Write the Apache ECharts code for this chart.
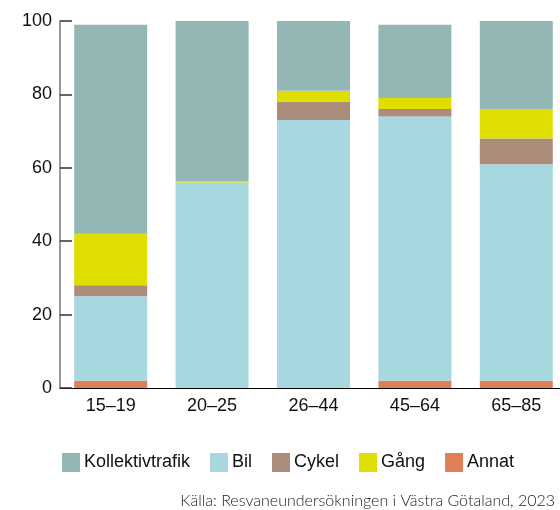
<!DOCTYPE html>
<html>
<head>
<meta charset="utf-8">
<script src="https://cdn.jsdelivr.net/npm/echarts@6/dist/echarts.min.js"></script>
<style>
  html, body { margin: 0; padding: 0; background: #fff; }
  #chart { width: 560px; height: 510px; }
</style>
</head>
<body>
<div id="chart"></div>
<script>
  // age groups
  const categories = ['15–19', '20–25', '26–44', '45–64', '65–85']
  // share in percent, stacked from the bottom up
  const annat = [2, 0, 0, 2, 2]
  const bil = [23, 56, 73, 72, 59]
  const cykel = [3, 0, 5, 2, 7]
  const gang = [14, 0.3, 3, 3, 8]
  const kollektivtrafik = [57, 43.7, 19, 20, 24]
  const yTicks = [0, 20, 40, 60, 80, 100]

  const fontFam = '"Liberation Sans", Arial, sans-serif'

  const chart = echarts.init(document.getElementById('chart'))

  function bar(name, data, color) {
    return {
      name: name,
      type: 'bar',
      stack: 'total',
      data: data,
      barWidth: 73,
      itemStyle: { color: color },
      emphasis: { disabled: true }
    }
  }

  var option = {
    animation: false,
    grid: {
      left: 60,
      top: 21,
      bottom: 122,
      width: 507,
      outerBoundsMode: 'none'
    },
    legend: {
      data: ['Kollektivtrafik', 'Bil', 'Cykel', 'Gång', 'Annat'],
      left: 57,
      top: 448,
      itemWidth: 18,
      itemHeight: 19,
      itemGap: 20,
      icon: 'rect',
      textStyle: { fontFamily: fontFam, fontSize: 18, color: '#111', padding: [0, 0, 0, -1] }
    },
    title: {
      text: 'Källa: Resvaneundersökningen i Västra Götaland, 2023',
      right: 0,
      top: 488,
      textStyle: { fontFamily: 'Lato', fontWeight: 300, fontSize: 16, color: '#222' }
    },
    xAxis: {
      type: 'category',
      data: categories,
      axisLine: { lineStyle: { color: '#000', width: 1.2 } },
      axisTick: { show: false },
      axisLabel: { fontFamily: fontFam, fontSize: 18, color: '#111', margin: 9 }
    },
    yAxis: {
      type: 'value',
      min: yTicks[0],
      max: yTicks[yTicks.length - 1],
      interval: 20,
      splitLine: { show: false },
      axisLine: { show: true, lineStyle: { color: '#777', width: 1.5 } },
      axisTick: { show: true, inside: true, length: 12, lineStyle: { color: '#333', width: 1.5 } },
      axisLabel: { fontFamily: fontFam, fontSize: 18, color: '#111', margin: 8 }
    },
    series: [
      bar('Annat', annat, '#df7f57'),
      bar('Bil', bil, '#a8d8df'),
      bar('Cykel', cykel, '#ac8c7b'),
      bar('Gång', gang, '#e0dd00'),
      bar('Kollektivtrafik', kollektivtrafik, '#93b7b4')
    ]
  }
  chart.setOption(option)
</script>
</body>
</html>
